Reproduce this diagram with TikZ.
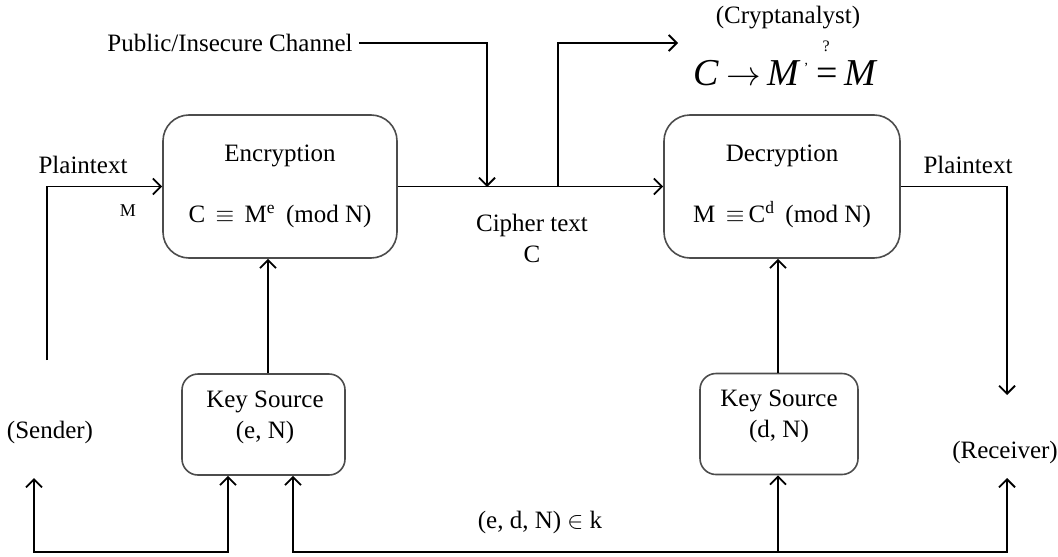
\documentclass[tikz,border=0pt]{standalone}
\usepackage{fontspec}
\setmainfont{Liberation Serif}
\usetikzlibrary{arrows.meta}
\begin{document}
\begin{tikzpicture}[x=0.5pt,y=-0.5pt,
  font=\fontsize{12.5}{15.5}\selectfont,
  conn/.style={line width=0.9pt,black},
  arr/.style={conn,-{Straight Barb[length=4pt,width=8pt,line width=0.9pt]}},
  darr/.style={conn,{Straight Barb[length=4pt,width=8pt,line width=0.9pt]}-{Straight Barb[length=4pt,width=8pt,line width=0.9pt]}},
  bigbox/.style={draw=black!70,line width=0.8pt,rounded corners=13pt,minimum width=117pt,minimum height=71.5pt,align=center,inner sep=0pt},
  keybox/.style={draw=black!70,line width=0.8pt,rounded corners=8pt,minimum height=50.5pt,inner sep=0pt},
  lbl/.style={inner sep=0pt,align=center}]
\useasboundingbox (0,0) rectangle (1058,556);
% boxes
\node[bigbox] (enc) at (280,186.5) {Encryption\\[15pt]C \,$\equiv$\, M\textsuperscript{e} \,(mod N)};
\node[bigbox,minimum width=118pt] (dec) at (782,186.5) {Decryption\\[15pt]M \,$\equiv$\,C\textsuperscript{d} \,(mod N)};
\node[keybox,minimum width=81.5pt] (keye) at (263.5,424.5) {};
\node[keybox,minimum width=79pt] (keyd) at (779,424) {};
\node[lbl] (keyetxt) at (265,417) {Key Source\\(e, N)};
\node[lbl] (keydtxt) at (779,416) {Key Source\\(d, N)};
% labels
\node[lbl] (pt1) at (83,165) {Plaintext};
\node[lbl,font=\fontsize{9}{11}\selectfont] (m) at (128,211) {M};
\node[lbl] (pt2) at (968,165) {Plaintext};
\node[lbl] (pub) at (230,43) {Public/Insecure Channel};
\node[lbl] (crypt) at (788,18) {(Cryptanalyst)};
\node[lbl,font=\fontsize{19}{22}\selectfont,anchor=base west] (form) at (693,85) {\itshape C\hspace{4pt}$\rightarrow$\hspace{3pt}M\hspace{2.5pt}\raisebox{6pt}{\fontsize{7}{7}\selectfont\upshape '}\hspace{4pt}\makebox[0pt][l]{\hspace{3pt}\raisebox{17pt}{\fontsize{8}{8}\selectfont\upshape ?}}{\upshape =}\hspace{3pt}M};
\node[lbl] (ciph) at (532,238) {Cipher text\\C};
\node[lbl] (send) at (50,432) {(Sender)};
\node[lbl] (recv) at (1005,452) {(Receiver)};
\node[lbl] (kset) at (540,522) {(e, d, N) $\in$ k};
% coordinates
\coordinate (s0) at (47,360);
\coordinate (j1) at (487,187);
\coordinate (j2) at (558,187);
\coordinate (cy) at (678,43);
\coordinate (r1) at (1007,395);
\coordinate (sb) at (34,478);
\coordinate (rb) at (1007,478);
\coordinate (bl) at (228,552);
\coordinate (br) at (1007,552);
% connectors
\draw[arr] (s0) |- (enc.west);
\draw[arr] (enc.east) -- (dec.west);
\draw[arr] (pub.east) ++(6,0) -| (j1);
\draw[arr] (j2) |- (cy);
\draw[arr] (dec.east) -| (r1);
\draw[arr] (keye.north -| 268,0) -- (enc.south -| 268,0);
\draw[arr] (keyd.north -| 778,0) -- (dec.south -| 778,0);
\draw[darr] (sb) |- (bl) -- (keye.south -| bl);
\draw[darr] (keye.south -| 293,0) |- (br) -- (rb);
\draw[arr] (778,552) -- (keyd.south -| 778,0);
\end{tikzpicture}
\end{document}
